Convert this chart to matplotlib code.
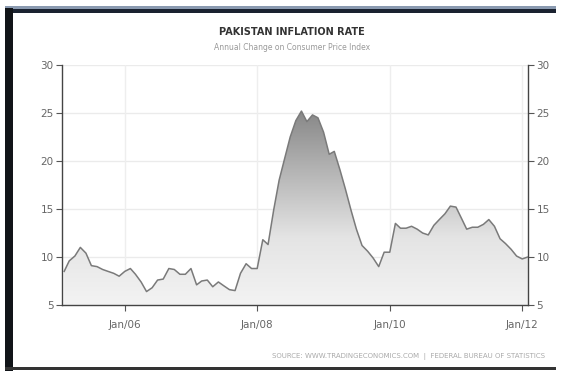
import numpy as np
import pandas as pd
import matplotlib
matplotlib.use("Agg")
import matplotlib.pyplot as plt
from matplotlib.patches import Rectangle
from matplotlib.path import Path
from matplotlib.patches import PathPatch
from matplotlib.colors import LinearSegmentedColormap
import matplotlib.dates as mdates

plt.rcParams['font.family'] = ['Liberation Sans Narrow', 'DejaVu Sans']

# Data: monthly Pakistan CPI inflation (%), Feb 2005 - Feb 2012
start_month = "2005-02-01"
inflation = [8.5, 9.6, 10.1, 11.0, 10.4, 9.1, 9.0, 8.7, 8.5, 8.3, 8.0,
             8.5, 8.8, 8.2, 7.4, 6.4, 6.8, 7.6, 7.7, 8.8, 8.7, 8.2, 8.2,
             8.8, 7.1, 7.5, 7.6, 6.9, 7.4, 7.0, 6.6, 6.5, 8.3, 9.3, 8.8,
             8.8, 11.8, 11.3, 14.9, 18.0, 20.3, 22.5, 24.2, 25.2, 24.1, 24.8, 24.5,
             23.0, 20.7, 21.0, 19.1, 17.1, 14.9, 12.9, 11.2, 10.6, 9.9, 9.0, 10.5,
             10.5, 13.5, 13.0, 13.0, 13.2, 12.9, 12.5, 12.3, 13.3, 13.9, 14.5, 15.3,
             15.2, 14.0, 12.9, 13.1, 13.1, 13.4, 13.9, 13.2, 11.9, 11.4, 10.8, 10.1,
             9.8, 10.0]
y_ticks = [5, 10, 15, 20, 25, 30]
x_tick_dates = ["2006-01-01", "2008-01-01", "2010-01-01", "2012-01-01"]
x_tick_labels = ["Jan/06", "Jan/08", "Jan/10", "Jan/12"]

title = "PAKISTAN INFLATION RATE"
subtitle = "Annual Change on Consumer Price Index"
source = "SOURCE: WWW.TRADINGECONOMICS.COM  |  FEDERAL BUREAU OF STATISTICS"

dates = pd.date_range(start_month, periods=len(inflation), freq="MS")
xnum = mdates.date2num(dates)
vals = np.array(inflation)

fig = plt.figure(figsize=(5.68, 3.71), dpi=100)
fig.patch.set_facecolor("white")

# outer frame
fig.add_artist(Rectangle((5/568, 1-13/371), 551/568, 5/371, transform=fig.transFigure,
                         facecolor="#1a2230", edgecolor="none"))
fig.add_artist(Rectangle((5/568, 1-9/371), 551/568, 3/371, transform=fig.transFigure,
                         facecolor="#8a9ab0", edgecolor="none"))
fig.add_artist(Rectangle((5/568, 0), 8/568, 363/371, transform=fig.transFigure,
                         facecolor="#111418", edgecolor="none"))
fig.add_artist(Rectangle((5/568, 1/371), 551/568, 3/371, transform=fig.transFigure,
                         facecolor="#333333", edgecolor="none"))

ax = fig.add_axes([62/568, 1-305/371, 466/568, 240/371])
ax.set_ylim(5, 30)
x0 = mdates.date2num(pd.Timestamp("2005-01-20"))
x1 = xnum[-1] + 1
ax.set_xlim(x0, x1)

# gradient fill under the curve
verts = [(xnum[0], 5)] + list(zip(xnum, vals)) + [(xnum[-1], 5)]
patch = PathPatch(Path(verts), facecolor="none", edgecolor="none")
ax.add_patch(patch)
grad = np.linspace(0, 1, 256).reshape(-1, 1)
cmap = LinearSegmentedColormap.from_list("g", ["#f3f3f3", "#e4e4e4", "#b4b4b4", "#828282"])
im = ax.imshow(grad, extent=[x0, x1, 5, 26], origin="lower", aspect="auto",
               cmap=cmap, zorder=1)
im.set_clip_path(patch)

ax.plot(xnum, vals, color="#7a7a7a", lw=1.1, zorder=3)

# grid
for yv in y_ticks[1:]:
    ax.axhline(yv, color="#ebebeb", lw=1.0, zorder=0.5)
tick_x = mdates.date2num(pd.to_datetime(x_tick_dates))
for xv in tick_x:
    ax.axvline(xv, color="#eeeeee", lw=1.0, zorder=0.5)

ax.set_yticks(y_ticks)
ax.set_yticklabels([str(v) for v in y_ticks])
ax.set_xticks(tick_x)
ax.set_xticklabels(x_tick_labels)
ax.tick_params(axis="both", colors="#555555", labelcolor="#666666", labelsize=7.5,
               length=4, width=0.8, direction="out", pad=2)
ax.tick_params(axis="y", left=True, right=True, labelleft=True, labelright=True)
ax.tick_params(axis="x", pad=7)
for s in ["left", "right", "bottom"]:
    ax.spines[s].set_color("#444444")
    ax.spines[s].set_linewidth(1.0)
ax.spines["top"].set_visible(False)
ax.set_facecolor("white")

fig.text(292/568, 1-32/371, title, ha="center", va="center", fontsize=7,
         color="#333333", fontweight="bold")
fig.text(292/568, 1-48/371, subtitle, ha="center", va="center", fontsize=5.5,
         color="#999999")
fig.text(545/568, 1-357/371, source, ha="right", va="center", fontsize=5,
         color="#aaaaaa")

fig.savefig("out.png", dpi=100)
